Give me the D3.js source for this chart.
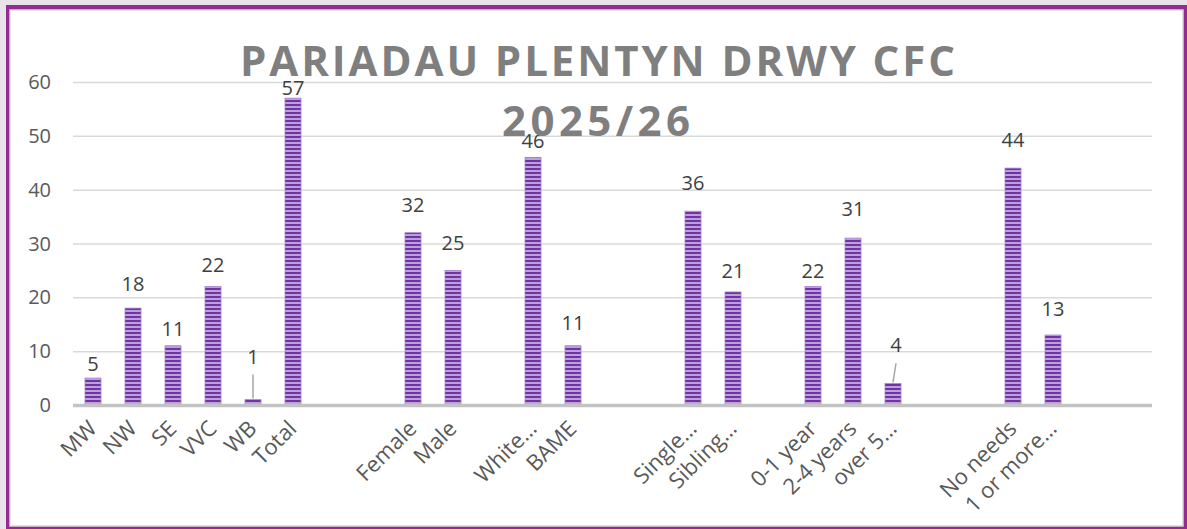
<!DOCTYPE html>
<html>
<head>
<meta charset="utf-8">
<script src="https://cdn.jsdelivr.net/npm/d3@7/dist/d3.min.js"></script>
<style>
  html, body { margin: 0; padding: 0; background: #e8e3ea; }
  svg { display: block; }
</style>
</head>
<body>
<script>
// ---- Data ----
const categories = ["MW", "NW", "SE", "VVC", "WB", "Total", "", "", "Female", "Male", "", "White…", "BAME", "", "", "Single…", "Sibling…", "", "0-1 year", "2-4 years", "over 5…", "", "", "No needs", "1 or more…", "", ""];
const values = [5, 18, 11, 22, 1, 57, null, null, 32, 25, null, 46, 11, null, null, 36, 21, null, 22, 31, 4, null, null, 44, 13, null, null];
const yTicks = [0, 10, 20, 30, 40, 50, 60];
const titleLines = ["PARIADAU PLENTYN DRWY CFC", "2025/26"];

// ---- Layout ----
const W = 1187, H = 529;
const plot = { left: 73, right: 1153, top: 82, bottom: 405 };
// label distance (px) above bar top, per category index (Excel-style manual label placement)
const labelLift = {0: 14, 1: 24, 2: 17, 3: 22, 4: 43, 5: 10, 8: 28, 9: 27, 11: 16, 12: 23, 15: 28, 16: 21, 18: 16, 19: 29, 20: 38, 23: 28, 24: 26};
const leaderIdx = [4, 20];

const svg = d3.select("body").append("svg").attr("width", W).attr("height", H);

// frame
svg.append("rect").attr("x", 6).attr("y", 5).attr("width", W - 6).attr("height", H - 5).attr("fill", "#952a93");
svg.append("rect").attr("x", 10).attr("y", 10).attr("width", 1173).attr("height", 516).attr("fill", "#ffffff")
  .attr("stroke", "#d9d9d9").attr("stroke-width", 1.5);

// pattern
const defs = svg.append("defs");
const pat = defs.append("pattern").attr("id", "stripes").attr("patternUnits", "userSpaceOnUse")
  .attr("width", 8).attr("height", 4);
pat.append("rect").attr("width", 8).attr("height", 4).attr("fill", "#bba0de");
pat.append("rect").attr("width", 8).attr("height", 2).attr("fill", "#7232a4");

const x = d3.scaleBand().domain(d3.range(categories.length)).range([plot.left, plot.right])
  .paddingInner(0.6).paddingOuter(0.3);
const y = d3.scaleLinear().domain([0, 60]).range([plot.bottom, plot.top]);

// gridlines
svg.append("g").selectAll("line").data(yTicks.filter(t => t > 0)).join("line")
  .attr("x1", plot.left).attr("x2", plot.right - 1)
  .attr("y1", d => y(d) + 0.5).attr("y2", d => y(d) + 0.5)
  .attr("stroke", "#d9d9d9").attr("stroke-width", 1.5);

// y tick labels
svg.append("g").selectAll("text").data(yTicks).join("text")
  .attr("x", 51).attr("y", d => y(d)).attr("dy", "0.35em")
  .attr("text-anchor", "end")
  .attr("font-family", "'Open Sans', sans-serif").attr("font-size", 20).attr("fill", "#595959")
  .text(d => d);

// bars
const barData = values.map((v, i) => ({ i, v })).filter(d => d.v != null);
svg.append("g").selectAll("rect").data(barData).join("rect")
  .attr("x", d => x(d.i)).attr("width", x.bandwidth())
  .attr("y", d => y(d.v)).attr("height", d => y(0) - y(d.v))
  .attr("fill", "url(#stripes)").attr("stroke", "#a581cf").attr("stroke-width", 0.8);

// baseline
svg.append("line").attr("x1", plot.left).attr("x2", plot.right - 1)
  .attr("y1", y(0) + 0.5).attr("y2", y(0) + 0.5)
  .attr("stroke", "#c3c3c3").attr("stroke-width", 3.5);

// value labels
const cx = i => x(i) + x.bandwidth() / 2;
svg.append("g").selectAll("text").data(barData).join("text")
  .attr("x", d => cx(d.i) + (d.i === 20 ? 3 : 0))
  .attr("y", d => y(d.v) - labelLift[d.i]).attr("dy", "0.35em")
  .attr("text-anchor", "middle")
  .attr("font-family", "'Open Sans', sans-serif").attr("font-size", 20).attr("fill", "#404040")
  .text(d => d.v);

// leader lines
svg.append("g").selectAll("line").data(barData.filter(d => leaderIdx.includes(d.i))).join("line")
  .attr("x1", d => cx(d.i) + (d.i === 20 ? 3 : 0))
  .attr("y1", d => y(d.v) - labelLift[d.i] + 18)
  .attr("x2", d => cx(d.i))
  .attr("y2", d => y(d.v) - 1)
  .attr("stroke", "#a6a6a6").attr("stroke-width", 1.5);

// x labels
svg.append("g").selectAll("text").data(categories.map((c, i) => ({ c, i })).filter(d => d.c)).join("text")
  .attr("transform", d => `translate(${cx(d.i) + 5},${y(0) + 25}) rotate(-45)`)
  .attr("text-anchor", "end")
  .attr("font-family", "'Open Sans', sans-serif").attr("font-size", 22).attr("fill", "#595959")
  .text(d => d.c);

// title
const title = svg.append("g").attr("font-family", "'Open Sans', sans-serif").attr("font-weight", "bold")
  .attr("fill", "#7f7f7f").attr("font-size", 42);
title.append("text").attr("x", 240).attr("y", 76).attr("textLength", 715).attr("lengthAdjust", "spacing")
  .text(titleLines[0]);
title.append("text").attr("x", 502).attr("y", 136).attr("textLength", 188).attr("lengthAdjust", "spacing")
  .text(titleLines[1]);
</script>
</body>
</html>
